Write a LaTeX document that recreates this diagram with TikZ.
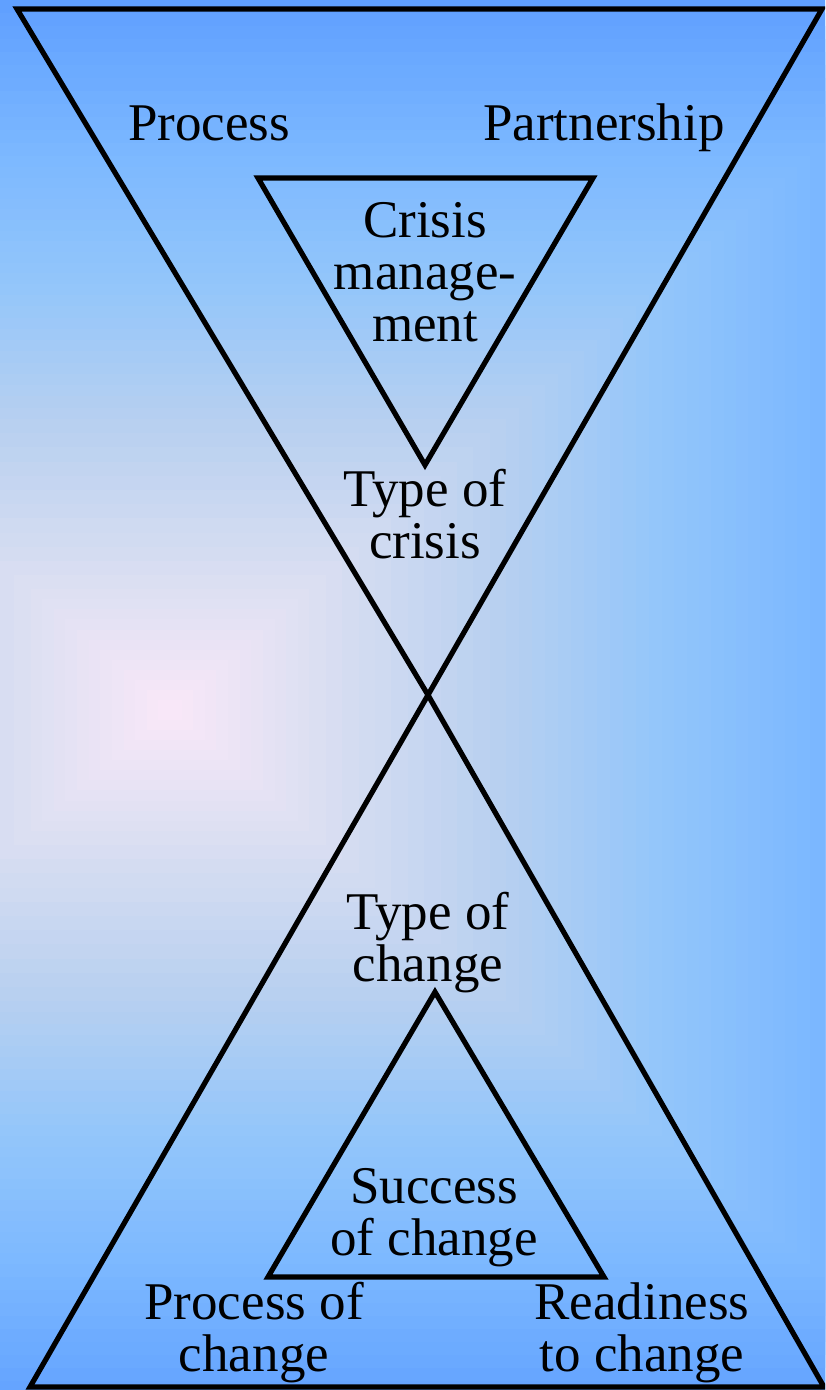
\documentclass[tikz,border=0pt]{standalone}
\usepackage{fontspec}
\setmainfont{Liberation Serif}
\definecolor{glowcore}{RGB}{250,232,248}
\definecolor{glowlilac}{RGB}{222,224,242}
\definecolor{glowmist}{RGB}{184,208,240}
\definecolor{glowsky}{RGB}{148,198,250}
\definecolor{glowazure}{RGB}{125,185,255}
\definecolor{glowdeep}{RGB}{96,160,255}

\begin{document}
\begin{tikzpicture}[
  x=1pt,
  y=-1pt,
  every node/.style={font=\fontsize{53}{52}\selectfont, black, inner sep=0pt, align=center},
  outline/.style={black, line width=5.2pt, line join=miter}
]
  % ---- the backdrop: nested rectangles, pink at the core -------------
  \clip (0,0) rectangle (825,1390);
  \fill[glowdeep] (0,0) rectangle (825,1390);
  \foreach \fa/\fb/\ca/\cb in {0.78/1.00/glowazure/glowdeep,
      0.60/0.78/glowsky/glowazure, 0.41/0.60/glowmist/glowsky,
      0.17/0.41/glowlilac/glowmist, 0.00/0.17/glowcore/glowlilac}{
    \foreach \k in {0,...,11}{
      \pgfmathsetmacro\f{\fb-(\fb-\fa)*\k/12}
      \pgfmathtruncatemacro\p{100-100*\k/12}
      \fill[\cb!\p!\ca] ({170-820*\f},{710-710*\f})
        rectangle ({170+820*\f},{710+710*\f});
    }
  }

  % ---- corners of the hourglass --------------------------------------
  \coordinate (topleft) at (17,9);
  \coordinate (topright) at (822,9);
  \coordinate (waist) at (428,695);
  \coordinate (baseleft) at (30,1387);
  \coordinate (baseright) at (824,1387);

  % ---- corners of the two inner triangles ----------------------------
  \coordinate (crisisleft) at (258,178);
  \coordinate (crisisright) at (593,178);
  \coordinate (crisistip) at (425,465);
  \coordinate (changetip) at (435,992);
  \coordinate (changeleft) at (268,1277);
  \coordinate (changeright) at (604,1277);

  \draw[outline] (topleft) -- (topright) -- (waist) -- cycle;
  \draw[outline] (waist) -- (baseright) -- (baseleft) -- cycle;
  \draw[outline] (crisisleft) -- (crisisright) -- (crisistip) -- cycle;
  \draw[outline] (changetip) -- (changeright) -- (changeleft) -- cycle;

  % ---- upper half ----------------------------------------------------
  \node[anchor=base] (process) at (209,140) {Process};
  \node[anchor=base] (partnership) at (604,140) {Partnership};
  \node (crisismgmt) at (425,272) {Crisis\\manage-\\ment};
  \node (crisistype) at (425,514) {Type of\\crisis};

  % ---- lower half ----------------------------------------------------
  \node (changetype) at (428,943) {Type of\\change};
  \node (success) at (434,1218) {Success\\of change};
  \node (changeprocess) at (254,1333) {Process of\\change};
  \node (readiness) at (642,1333) {Readiness\\to change};
\end{tikzpicture}
\end{document}
